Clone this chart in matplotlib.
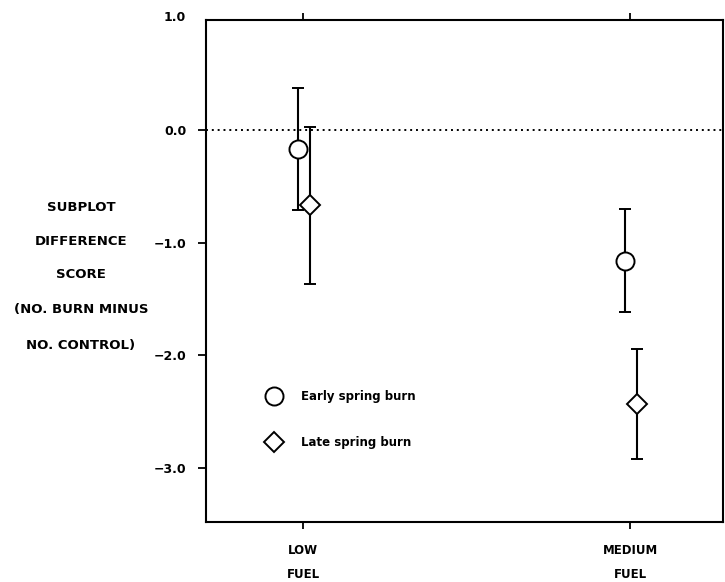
import matplotlib
matplotlib.use("Agg")
import matplotlib.pyplot as plt
from matplotlib.lines import Line2D
import matplotlib.transforms as mtransforms

plt.rcParams['font.family'] = ['DejaVu Sans']
plt.rcParams['font.weight'] = 'bold'

categories = ["LOW\nFUEL", "MEDIUM\nFUEL"]
early_mean = [-0.17, -1.16]
early_err = [0.54, 0.46]
late_mean = [-0.67, -2.43]
late_err = [0.70, 0.49]
yticks = [0.0, -1.0, -2.0, -3.0]
ytick_labels = ["0.0", "\u22121.0", "\u22122.0", "\u22123.0"]
top_label_value = 1.0
top_label = "1.0"
ylabel_lines = ["SUBPLOT", "DIFFERENCE", "SCORE", "(NO. BURN MINUS", "NO. CONTROL)"]
legend_labels = ["Early spring burn", "Late spring burn"]

fig = plt.figure(figsize=(7.25, 5.82), dpi=100)
W, H = 725, 582
ax = fig.add_axes([206 / W, 1 - 522 / H, (723 - 206) / W, (522 - 20) / H])

x = list(range(len(categories)))
xe = [v - 0.016 for v in x]
xl = [v + 0.02 for v in x]

ax.axhline(0, color='black', linestyle=(0, (1, 2)), linewidth=1.4, zorder=1)

ax.errorbar(xe, early_mean, yerr=early_err, fmt='o', color='black', mfc='white',
            mec='black', ms=13, mew=1.4, elinewidth=1.5, capsize=4, capthick=1.5, zorder=3)
ax.errorbar(xl, late_mean, yerr=late_err, fmt='D', color='black', mfc='white',
            mec='black', ms=10, mew=1.4, elinewidth=1.5, capsize=4, capthick=1.5, zorder=3)

ax.set_xlim(-0.297, 1.284)
ax.set_ylim(-3.48, 0.976)
ax.set_yticks(yticks)
ax.set_yticklabels(ytick_labels)
ax.set_xticks(x)
ax.set_xticklabels(categories, linespacing=2.05)
ax.tick_params(axis='y', direction='out', length=5.8, width=1.3, labelsize=9, pad=8.5)
ax.tick_params(axis='x', direction='out', length=5, width=1.3, labelsize=8.5, pad=11,
               top=True)
for s in ax.spines.values():
    s.set_linewidth(1.5)

# "1.0" label sits just above the frame
trans = mtransforms.blended_transform_factory(ax.transAxes, ax.transData)
ax.text(-(206 - 186) / 517, top_label_value, top_label, transform=trans,
        ha='right', va='center', fontsize=9, fontweight='bold', clip_on=False)

handles = [Line2D([], [], marker='o', linestyle='none', ms=13, mfc='white', mec='black', mew=1.4),
           Line2D([], [], marker='D', linestyle='none', ms=10, mfc='white', mec='black', mew=1.4)]
ax.legend(handles, legend_labels, loc='center left', bbox_to_anchor=(0.089, 0.204),
          frameon=False, labelspacing=2.8, handletextpad=1.25,
          prop={'weight': 'bold', 'size': 8.5})

ys = [207, 241, 274, 309, 345]
for line, yy in zip(ylabel_lines, ys):
    fig.text(81 / W, 1 - yy / H, line, ha='center', va='center', fontsize=9.5, fontweight='bold')

fig.savefig("out.png", dpi=100)
